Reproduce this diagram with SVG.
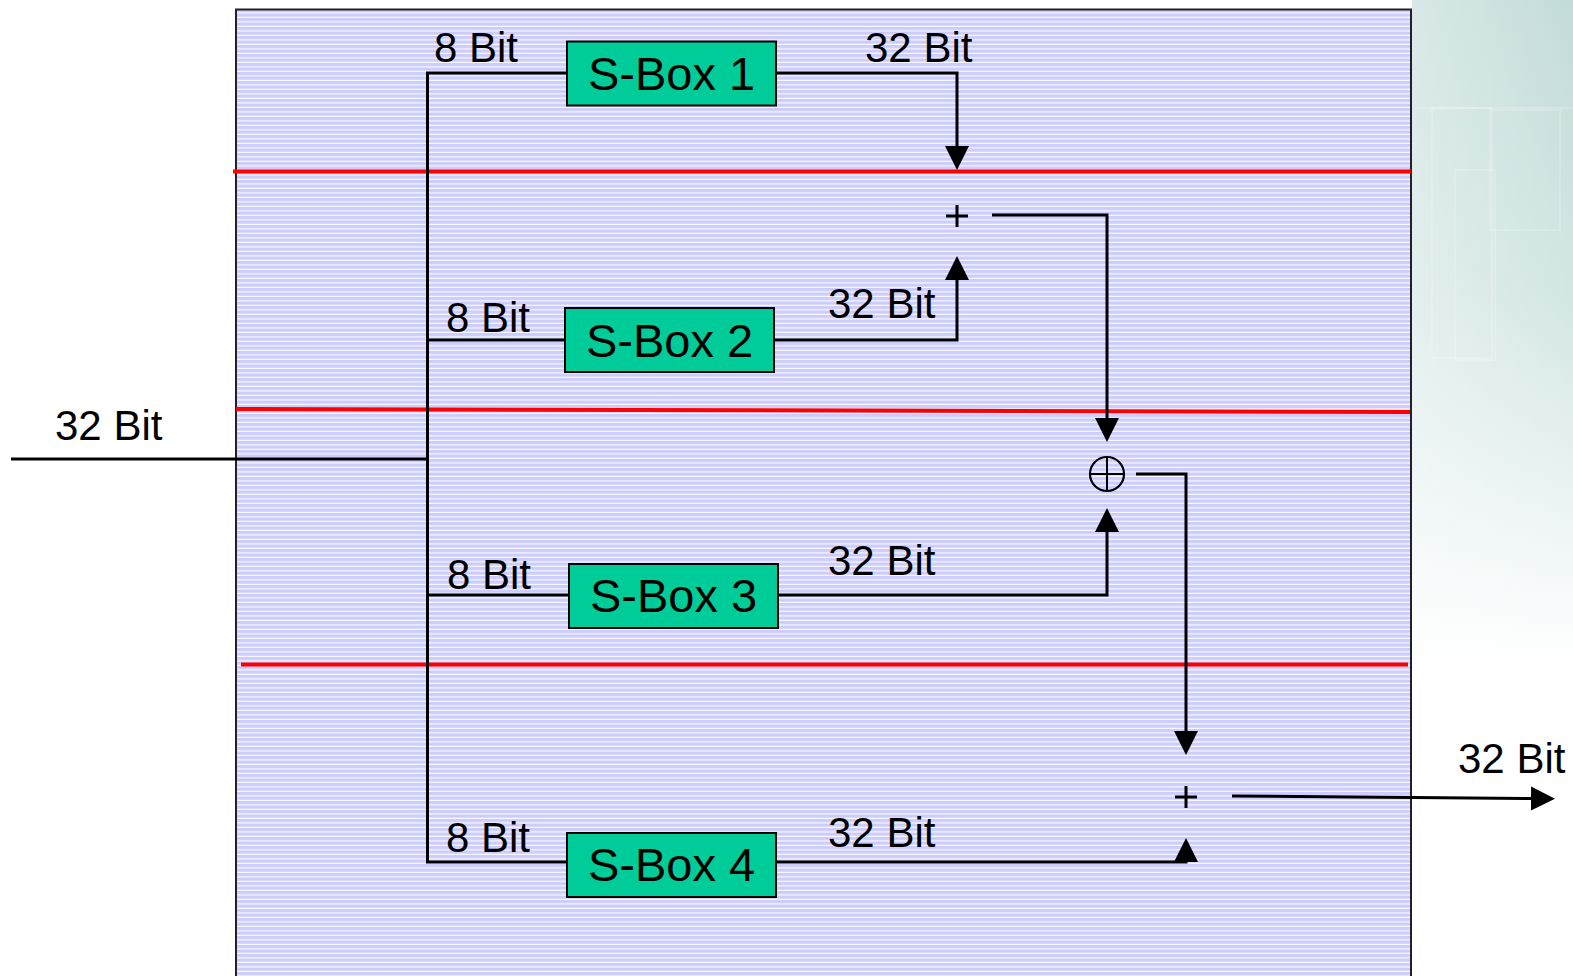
<svg xmlns="http://www.w3.org/2000/svg" width="1573" height="976" viewBox="0 0 1573 976">
  <defs>
    <pattern id="stripes" x="0" y="0" width="20" height="4.5" patternUnits="userSpaceOnUse">
      <rect x="0" y="0" width="20" height="4.5" fill="#ccccff"/>
      <rect x="0" y="3.3" width="20" height="1.1" fill="#ffffff"/>
    </pattern>
    <linearGradient id="sideFade" x1="0" y1="0" x2="0" y2="1">
      <stop offset="0" stop-color="#c3dcd9"/>
      <stop offset="0.3" stop-color="#d3e6e4"/>
      <stop offset="0.5" stop-color="#e9f3f2"/>
      <stop offset="0.68" stop-color="#ffffff"/>
    </linearGradient>
    <linearGradient id="sideTint" x1="0" y1="0" x2="1" y2="0">
      <stop offset="0" stop-color="#ffffff" stop-opacity="0.35"/>
      <stop offset="1" stop-color="#ffffff" stop-opacity="0"/>
    </linearGradient>
    <marker id="arrow" markerUnits="userSpaceOnUse" markerWidth="26" markerHeight="26" refX="2" refY="12" orient="auto">
      <path d="M0,0 L24,12 L0,24 z" fill="#000"/>
    </marker>
    <style>
      .bit { font-family: "Liberation Sans", Arial, sans-serif; font-size: 42px; fill: #000; }
      .sbox rect { fill: #00cc99; stroke: #000; stroke-width: 2; }
      .sbox text { font-family: "Liberation Sans", Arial, sans-serif; font-size: 47px; fill: #000; text-anchor: middle; }
      .wire { fill: none; stroke: #000; stroke-width: 3; }
      .arr { marker-end: url(#arrow); }
      .sep { stroke: #ff0000; stroke-width: 4; }
      .op { stroke: #000; stroke-width: 3; fill: none; }
    </style>
  </defs>

  <!-- page background -->
  <rect x="0" y="0" width="1573" height="976" fill="#ffffff"/>
  <rect x="1412" y="0" width="161" height="976" fill="url(#sideFade)"/>
  <rect x="1412" y="0" width="161" height="976" fill="url(#sideTint)"/>
  <g fill="none" stroke="#ffffff" stroke-opacity="0.18" stroke-width="2">
    <rect x="1432" y="108" width="60" height="250"/>
    <rect x="1490" y="110" width="70" height="120"/>
    <rect x="1455" y="170" width="40" height="190"/>
    <line x1="1415" y1="108" x2="1573" y2="108"/>
  </g>

  <!-- round frame -->
  <rect x="236" y="9.5" width="1175" height="980" fill="url(#stripes)" stroke="#222" stroke-width="2"/>

  <!-- separators between the rounds -->
  <g id="separators">
    <line class="sep" x1="233" y1="171.5" x2="1411" y2="171.5"/>
    <line class="sep" x1="236" y1="409" x2="1410" y2="412"/>
    <line class="sep" x1="241" y1="664.5" x2="1408" y2="664.5"/>
  </g>

  <!-- wiring -->
  <g id="connectors">
    <line class="wire" x1="11" y1="459" x2="428" y2="459"/>
    <polyline class="wire" points="567,73 427.5,73 427.5,862 567,862"/>
    <line class="wire" x1="427.5" y1="340" x2="565" y2="340"/>
    <line class="wire" x1="427.5" y1="595" x2="569" y2="595"/>

    <polyline class="wire arr" points="776,73 957,73 957,148"/>
    <polyline class="wire arr" points="774,340 957,340 957,278"/>
    <polyline class="wire arr" points="992,215 1107,215 1107,420"/>
    <polyline class="wire arr" points="778,595 1107,595 1107,530"/>
    <polyline class="wire arr" points="1136,474 1186,474 1186,733"/>
    <polyline class="wire arr" points="776,862 1186,862 1186,860"/>
    <line class="wire arr" x1="1232" y1="796" x2="1533" y2="798.5"/>
  </g>

  <!-- combining operators -->
  <g id="add1">
    <path class="op" d="M946,216 H968 M957,205 V227"/>
  </g>
  <g id="xor">
    <circle cx="1107" cy="474" r="17" fill="none" stroke="#000" stroke-width="2.2"/>
    <path d="M1090,474 H1124 M1107,457 V491" stroke="#000" stroke-width="2"/>
  </g>
  <g id="add2">
    <path class="op" d="M1175,797 H1197 M1186,786 V808"/>
  </g>

  <!-- substitution boxes -->
  <g id="sbox1" class="sbox">
    <rect x="567" y="41.5" width="209" height="64"/>
    <text x="671.5" y="90">S-Box 1</text>
  </g>
  <g id="sbox2" class="sbox">
    <rect x="565" y="308" width="209" height="64"/>
    <text x="669.5" y="357">S-Box 2</text>
  </g>
  <g id="sbox3" class="sbox">
    <rect x="569" y="564" width="209" height="64"/>
    <text x="673.5" y="612">S-Box 3</text>
  </g>
  <g id="sbox4" class="sbox">
    <rect x="567" y="833" width="209" height="64"/>
    <text x="671.5" y="881">S-Box 4</text>
  </g>

  <!-- width labels -->
  <g id="labels">
    <text class="bit" x="55" y="440">32 Bit</text>
    <text class="bit" x="434" y="62">8 Bit</text>
    <text class="bit" x="865" y="62">32 Bit</text>
    <text class="bit" x="446" y="332">8 Bit</text>
    <text class="bit" x="828" y="318">32 Bit</text>
    <text class="bit" x="447" y="589">8 Bit</text>
    <text class="bit" x="828" y="575">32 Bit</text>
    <text class="bit" x="446" y="852">8 Bit</text>
    <text class="bit" x="828" y="847">32 Bit</text>
    <text class="bit" x="1458" y="773">32 Bit</text>
  </g>
</svg>
